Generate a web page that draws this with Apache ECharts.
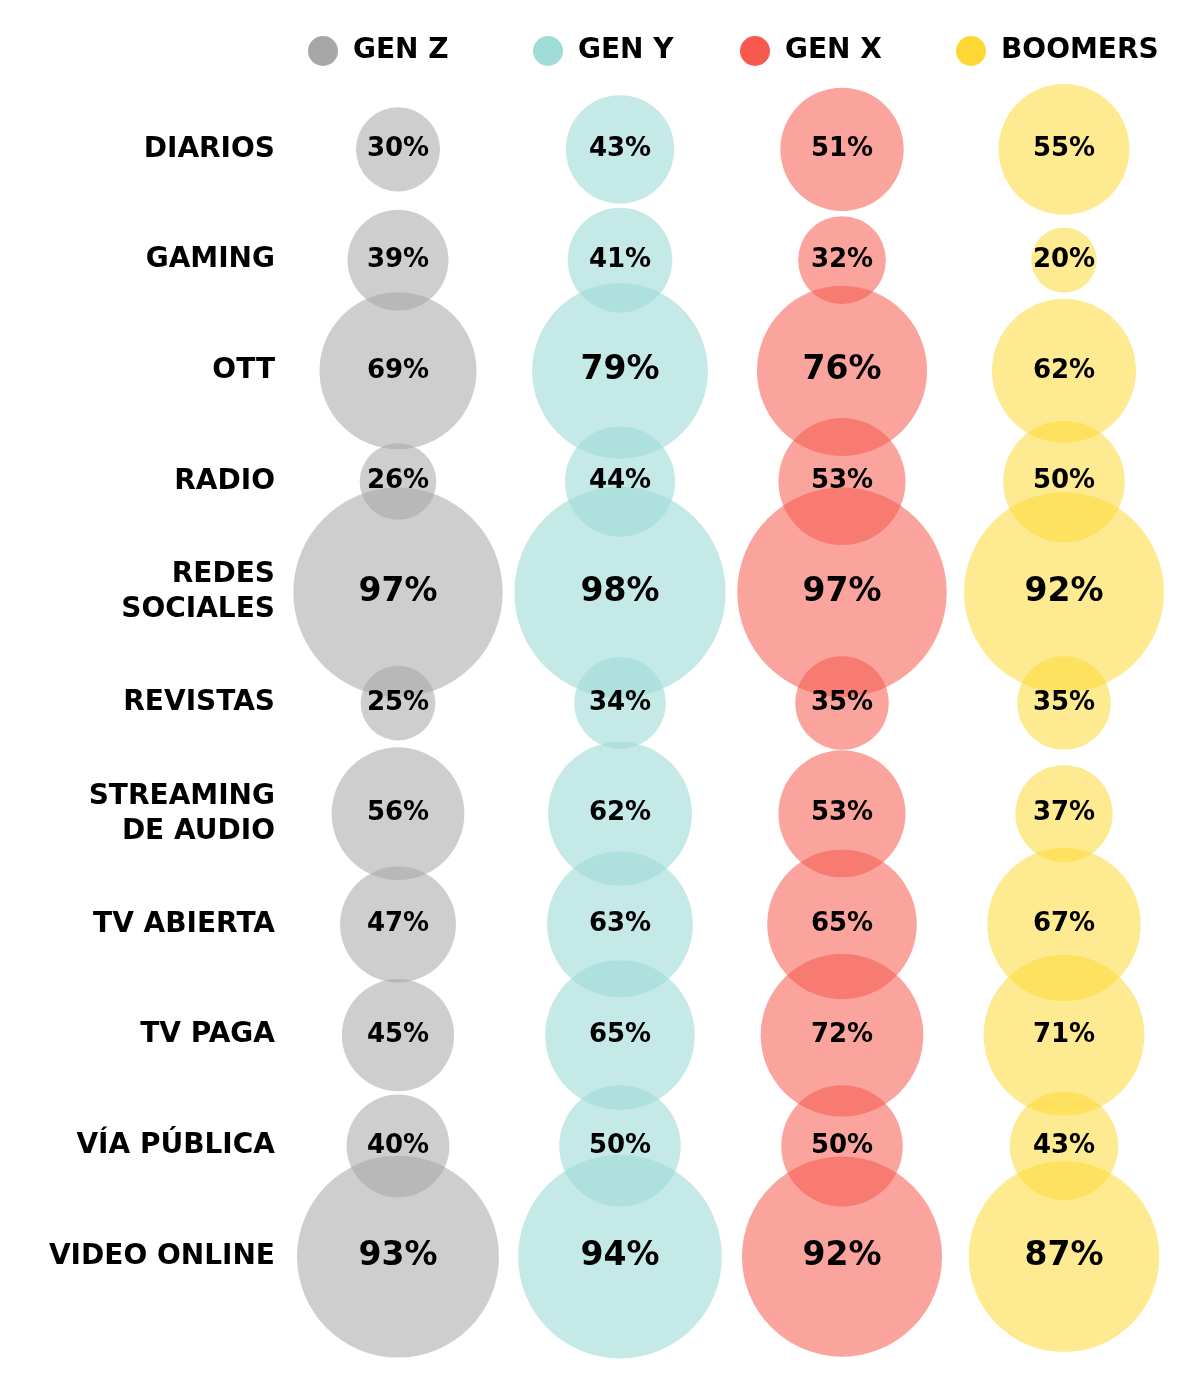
<!DOCTYPE html>
<html>
<head>
<meta charset="utf-8">
<script src="https://cdn.jsdelivr.net/npm/echarts@6/dist/echarts.min.js"></script>
<style>
  html, body { margin: 0; padding: 0; background: #fff; }
  #main { width: 1200px; height: 1377px; }
</style>
</head>
<body>
<div id="main"></div>
<script>
// categories (top to bottom) and generations (left to right)
var medios = ['DIARIOS', 'GAMING', 'OTT', 'RADIO', 'REDES\nSOCIALES', 'REVISTAS',
  'STREAMING\nDE AUDIO', 'TV ABIERTA', 'TV PAGA', 'VÍA PÚBLICA', 'VIDEO ONLINE'];
var generaciones = ['GEN Z', 'GEN Y', 'GEN X', 'BOOMERS'];

// % per medio, same order as medios
var genZ    = [30, 39, 69, 26, 97, 25, 56, 47, 45, 40, 93];
var genY    = [43, 41, 79, 44, 98, 34, 62, 63, 65, 50, 94];
var genX    = [51, 32, 76, 53, 97, 35, 53, 65, 72, 50, 92];
var boomers = [55, 20, 62, 50, 92, 35, 37, 67, 71, 43, 87];

var valores = [genZ, genY, genX, boomers];
// solid for the legend dots, see-through for the bubbles
var colores = ['#a6a6a6', '#a0dcd8', '#f6594d', '#fdd835'];
var burbujas = ['rgba(166,166,166,0.55)', 'rgba(160,220,216,0.62)',
  'rgba(246,89,77,0.55)', 'rgba(253,216,53,0.55)'];
var legendLeft = [303, 528, 735, 951];

var font = 'DejaVu Sans';

var series = [];
var legends = [];
for (var g = 0; g < generaciones.length; g++) {
  var data = [];
  for (var i = 0; i < medios.length; i++) {
    data.push([generaciones[g], medios[i], valores[g][i]]);
  }
  series.push({
    name: generaciones[g],
    type: 'scatter',
    data: data,
    symbolSize: function (d) { return 1.87 * d[2] + 28; },
    itemStyle: { color: burbujas[g], opacity: 1 },
    label: {
      show: true,
      position: 'inside',
      formatter: function (p) {
        var v = p.data[2];
        return (v >= 75 ? '{big|' : '{sm|') + v + '%}';
      },
      rich: {
        big: { fontFamily: font, fontWeight: 'bold', fontSize: 33, color: '#000' },
        sm: { fontFamily: font, fontWeight: 'bold', fontSize: 26, color: '#000' }
      }
    },
    emphasis: { disabled: true }
  });
  legends.push({
    data: [generaciones[g]],
    left: legendLeft[g],
    top: 31,
    icon: 'circle',
    itemWidth: 40,
    itemHeight: 30,
    itemGap: 0,
    selectedMode: false,
    itemStyle: { color: colores[g], opacity: 1 },
    textStyle: { fontFamily: font, fontWeight: 'bold', fontSize: 28, color: '#000', padding: [0, 0, 0, 5] }
  });
}

var myChart = echarts.init(document.getElementById('main'));
var option = {
  backgroundColor: '#fff',
  animation: false,
  legend: legends,
  grid: { left: 287, right: 25, top: 94, bottom: 65 },
  xAxis: {
    type: 'category',
    data: generaciones,
    show: false
  },
  yAxis: {
    type: 'category',
    data: medios,
    inverse: true,
    axisLine: { show: false },
    axisTick: { show: false },
    splitLine: { show: false },
    axisLabel: {
      margin: 12,
      fontFamily: font,
      fontWeight: 'bold',
      fontSize: 28,
      lineHeight: 35,
      color: '#000',
      align: 'right'
    }
  },
  series: series
};
myChart.setOption(option);
</script>
</body>
</html>
